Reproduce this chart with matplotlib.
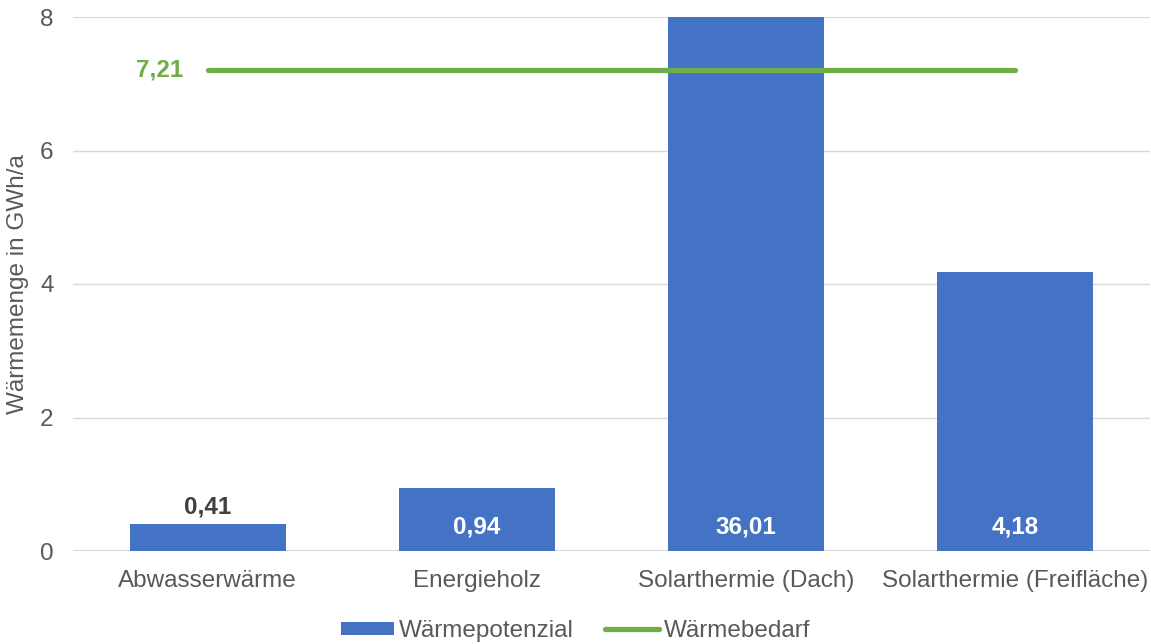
import numpy as np
import matplotlib.pyplot as plt

plt.rcParams['font.family'] = ['Liberation Sans', 'DejaVu Sans']

categories = ['Abwasserwärme', 'Energieholz', 'Solarthermie (Dach)', 'Solarthermie (Freifläche)']
potenzial = [0.41, 0.94, 36.01, 4.18]
bedarf = 7.21
y_ticks = [0, 2, 4, 6, 8]

bar_color = '#4472C4'
line_color = '#70AD47'
text_gray = '#595959'
fs = 17.5

fig = plt.figure(figsize=(11.51, 6.44), dpi=100)
ax = fig.add_axes([73 / 1151, 93 / 644, 1077 / 1151, 534 / 644])

x = np.arange(len(categories))
bars = ax.bar(x, potenzial, width=0.58, color=bar_color, zorder=2, label='Wärmepotenzial')
line, = ax.plot([x[0], x[-1]], [bedarf, bedarf], color=line_color, lw=3.8,
                solid_capstyle='round', zorder=3, label='Wärmebedarf')

ax.set_xlim(-0.5, len(categories) - 0.5)
ax.set_ylim(0, 8)
ax.set_yticks(y_ticks)
ax.set_xticks(x)
ax.set_xticklabels(categories)
ax.tick_params(axis='both', length=0, labelsize=fs, colors=text_gray)
ax.tick_params(axis='x', pad=14)
ax.tick_params(axis='y', pad=14)
ax.grid(axis='y', color='#D9D9D9', lw=1.0, zorder=0)
for s in ax.spines.values():
    s.set_visible(False)
ax.axhline(0, color='#D0D0D0', lw=1.2, zorder=1)

fig.text(18 / 1151, 1 - 284 / 644, 'Wärmemenge in GWh/a', rotation=90,
         ha='center', va='center', fontsize=fs, color=text_gray)

# value labels: small bar above, the others inside at the base
for xi, v in zip(x, potenzial):
    txt = f'{v:.2f}'.replace('.', ',')
    if v < 0.5:
        ax.text(xi, v + 0.08, txt, ha='center', va='bottom', fontsize=fs,
                fontweight='bold', color='#404040', zorder=4)
    else:
        ax.text(xi, 0.36, txt, ha='center', va='center', fontsize=fs,
                fontweight='bold', color='white', zorder=4)

ax.text(x[0] - 0.09, bedarf, f'{bedarf:.2f}'.replace('.', ','), ha='right',
        va='center', fontsize=fs, fontweight='bold', color=line_color)

leg = fig.legend([bars, line], ['Wärmepotenzial', 'Wärmebedarf'],
                 loc='center', bbox_to_anchor=(0.5, 1 - 631 / 644), ncol=2,
                 frameon=False, fontsize=fs, handlelength=2.2, handleheight=0.45,
                 columnspacing=1.3, handletextpad=0.2, borderpad=0.0)
for t in leg.get_texts():
    t.set_color(text_gray)

fig.savefig('out.png', dpi=100)
